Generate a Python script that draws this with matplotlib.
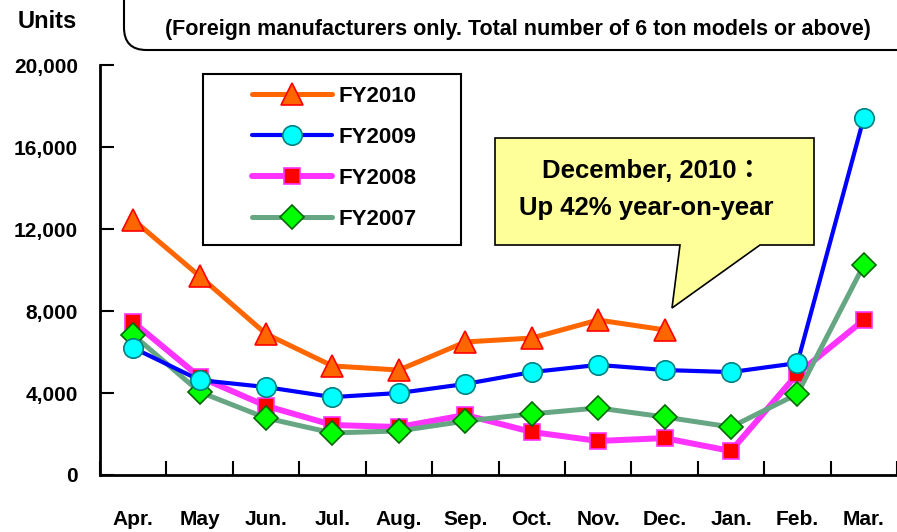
import matplotlib
matplotlib.use("Agg")
import matplotlib.pyplot as plt
from matplotlib.patches import FancyBboxPatch, Polygon, Rectangle

FONT = 'Liberation Sans'
plt.rcParams['font.family'] = [FONT, 'DejaVu Sans']
plt.rcParams['font.weight'] = 'bold'

months = ['Apr.', 'May', 'Jun.', 'Jul.', 'Aug.', 'Sep.', 'Oct.', 'Nov.', 'Dec.', 'Jan.', 'Feb.', 'Mar.']
fy2010 = [12450, 9700, 6880, 5320, 5120, 6490, 6680, 7560, 7080]
fy2009 = [6200, 4630, 4290, 3800, 4000, 4440, 5020, 5370, 5120, 5020, 5460, 17420]
fy2008 = [7460, 4780, 3370, 2440, 2340, 2930, 2100, 1660, 1800, 1170, 4930, 7560]
fy2007 = [6830, 4050, 2780, 2050, 2150, 2630, 2980, 3270, 2830, 2340, 3950, 10240]
yticks = [0, 4000, 8000, 12000, 16000, 20000]

fig = plt.figure(figsize=(8.97, 5.32), dpi=100)
ax = fig.add_axes([100/897, 57/532, 797/897, 410/532])

x = list(range(len(months)))
# series: (values, label, line colour, line width, marker, face, edge, size, zorder)
series = [
    (fy2008, 'FY2008', '#FF33FF', 4.3, 's', '#FF0000', '#FF33FF', 12, 3),
    (fy2007, 'FY2007', '#66A682', 3.6, 'D', '#00FF00', '#006600', 12, 4),
    (fy2009, 'FY2009', '#0000FF', 3.0, 'o', '#00FFFF', '#008080', 14, 5),
    (fy2010, 'FY2010', '#FF6600', 3.6, '^', '#FF6600', '#FF0000', 16, 6),
]
handles = {}
for vals, lab, lc, lw, mk, fc, ec, ms, z in series:
    h, = ax.plot(x[:len(vals)], vals, color=lc, lw=lw, marker=mk, markerfacecolor=fc,
                 markeredgecolor=ec, markeredgewidth=1.2, markersize=ms, zorder=z,
                 solid_capstyle='round', solid_joinstyle='round', clip_on=False)
    handles[lab] = h

ax.set_xlim(-0.5, 11.5)
ax.set_ylim(0, 20000)
ax.set_yticks(yticks)
ax.set_yticklabels([f'{v:,}' for v in yticks], fontsize=15, fontweight='bold')
ax.set_xticks([i - 0.5 for i in range(13)])
ax.set_xticklabels([])
ax.set_xticks(x, minor=True)
ax.set_xticklabels(months, minor=True, fontsize=15, fontweight='bold')
ax.tick_params(axis='x', which='major', direction='in', length=10, width=1.5)
ax.tick_params(axis='x', which='minor', length=0, pad=25)
ax.tick_params(axis='y', direction='in', length=10, width=1.5, pad=16)
for s in ['top', 'right']:
    ax.spines[s].set_visible(False)
for s in ['left', 'bottom']:
    ax.spines[s].set_linewidth(2)


def fx(px):
    return px / 897


def fy(py):
    return 1 - py / 532


# legend: frame drawn by hand so it can be wider than the entries
order = ['FY2010', 'FY2009', 'FY2008', 'FY2007']
leg = ax.legend([handles[k] for k in order], order, loc='upper left',
                bbox_to_anchor=(fx(252), fy(86)), bbox_transform=fig.transFigure,
                prop={'size': 16, 'weight': 'bold'}, frameon=False,
                handlelength=3.6, handletextpad=0.3, labelspacing=0.9,
                borderpad=0, borderaxespad=0, numpoints=1)
leg.set_zorder(8)
ax.add_patch(Rectangle((fx(203), fy(245)), fx(461) - fx(203), fy(74) - fy(245),
                       transform=fig.transFigure, facecolor='white',
                       edgecolor='black', lw=1.5, zorder=7, clip_on=False))

# callout box with pointer to December
callout = Polygon([(fx(495), fy(138)), (fx(814), fy(138)), (fx(814), fy(245)),
                   (fx(760), fy(245)), (fx(672), fy(308)), (fx(680), fy(245)),
                   (fx(495), fy(245))], closed=True, transform=fig.transFigure,
                  facecolor='#FFFF99', edgecolor='black', lw=1.2, zorder=10)
fig.patches.append(callout)
fig.text(fx(652), fy(171), 'December, 2010\uff1a', ha='center', va='center',
         fontsize=18.5, fontweight='bold', zorder=11,
         family=[FONT, 'Noto Sans CJK JP', 'DejaVu Sans'])
fig.text(fx(646), fy(208), 'Up 42% year-on-year', ha='center', va='center',
         fontsize=18.5, fontweight='bold', zorder=11)

# title box, cut off at the top
tbox = FancyBboxPatch((fx(124), fy(50)), fx(960) - fx(124), fy(-600) - fy(50),
                      boxstyle='round,pad=0,rounding_size=0.025',
                      transform=fig.transFigure, facecolor='white',
                      edgecolor='black', lw=1.5, mutation_aspect=897/532)
fig.patches.append(tbox)
fig.text(fx(518), fy(29), '(Foreign manufacturers only. Total number of 6 ton models or above)',
         ha='center', va='center', fontsize=15.5, fontweight='bold')
fig.text(fx(47), fy(21), 'Units', ha='center', va='center', fontsize=17, fontweight='bold')

fig.savefig('out.png', dpi=100)
